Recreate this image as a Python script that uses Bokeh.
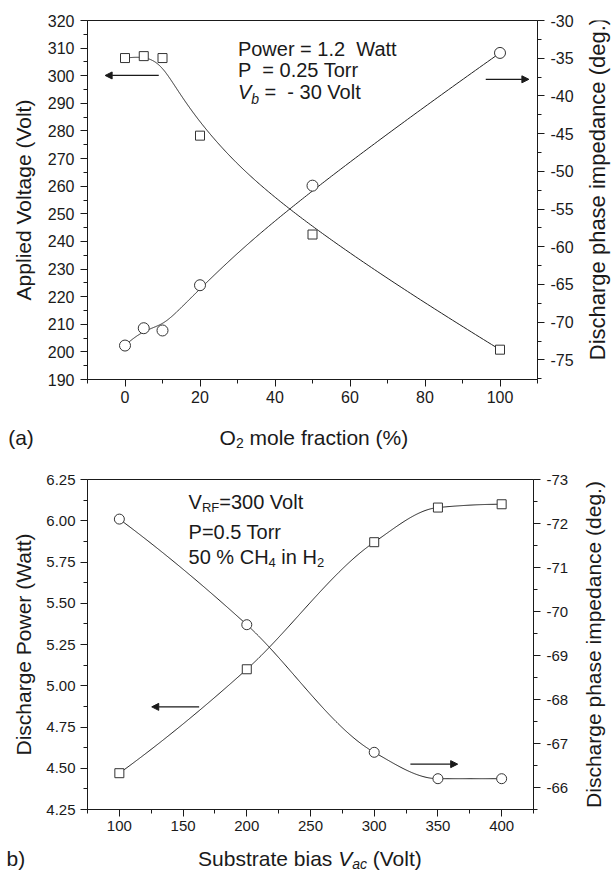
import math
import numpy as np
from bokeh.plotting import figure
from bokeh.models import (Range1d, LinearAxis, FixedTicker, Label, Arrow, NormalHead,
                          PrintfTickFormatter)
from bokeh.layouts import column, row
from bokeh.embed import file_html
from bokeh.resources import INLINE

# ---------------- data: panel (a) ----------------
o2_fraction = [0, 5, 10, 20, 50, 100]                          # O2 mole fraction (%)
applied_voltage = [306.4, 307.1, 306.4, 278.3, 242.5, 200.8]   # Volt (left axis)
phase_a = [-73.1, -70.8, -71.1, -65.1, -51.9, -34.3]           # deg (right axis)

# ---------------- data: panel (b) ----------------
substrate_bias = [100, 200, 300, 350, 400]                     # Volt
discharge_power = [4.47, 5.10, 5.87, 6.08, 6.10]               # Watt (left axis)
phase_b = [-72.1, -69.7, -66.8, -66.2, -66.2]                  # deg (right axis, inverted)

# tick values
a_xticks = [0, 20, 40, 60, 80, 100]
a_xminor = [-10, 10, 30, 50, 70, 90, 110]
a_lticks = list(range(190, 321, 10))
a_lminor = list(range(195, 320, 10))
a_rticks = [-75, -70, -65, -60, -55, -50, -45, -40, -35, -30]
a_rminor = [-77.5, -72.5, -67.5, -62.5, -57.5, -52.5, -47.5, -42.5, -37.5, -32.5]

b_xticks = [100, 150, 200, 250, 300, 350, 400]
b_xminor = [75, 125, 175, 225, 275, 325, 375, 425]
b_lticks = [4.25, 4.5, 4.75, 5.0, 5.25, 5.5, 5.75, 6.0, 6.25]
b_lminor = [4.375, 4.625, 4.875, 5.125, 5.375, 5.625, 5.875, 6.125]
b_rticks = [-73, -72, -71, -70, -69, -68, -67, -66]
b_rminor = [-72.5, -71.5, -70.5, -69.5, -68.5, -67.5, -66.5, -65.5]

FONT = "Liberation Sans"
INK = "#1a1a1a"
NB = "\u00a0"

WID = {' ': 278, NB: 278, '(': 333, ')': 333, '%': 889, '.': 278, '=': 584, '-': 333,
       'A': 667, 'B': 667, 'C': 722, 'D': 722, 'F': 611, 'H': 722, 'O': 778,
       'P': 667, 'R': 722, 'S': 667, 'T': 611, 'V': 667, 'W': 944,
       'a': 556, 'b': 556, 'c': 500, 'd': 556, 'e': 556, 'f': 278, 'g': 556,
       'h': 556, 'i': 222, 'l': 222, 'm': 833, 'n': 556, 'o': 556, 'p': 556,
       'r': 333, 's': 500, 't': 278, 'u': 556, 'w': 722}


def text_width(s, size):
    return sum(WID.get(ch, 556) for ch in s) * size / 1000.0


def rich(p, x, y, pieces, align="left", y_offset=0, x_offset=0):
    total = sum(text_width(t, sz) for t, sz, st, dy in pieces)
    off = x_offset if align == "left" else x_offset - total / 2.0
    for t, sz, st, dy in pieces:
        stripped = t.lstrip(" ")
        lead = text_width(t[:len(t) - len(stripped)], sz)
        p.add_layout(Label(x=x, y=y, x_offset=off + lead, y_offset=y_offset + dy,
                           text=stripped, text_font=FONT, text_font_size=f"{sz}px",
                           text_font_style=st, text_color=INK,
                           text_baseline="alphabetic", text_align="left"))
        off += text_width(t, sz)


def bspline_curve(xs, ys, n=400, k=3):
    """Clamped cubic B-spline using the data points as control points."""
    P = np.column_stack([xs, ys]).astype(float)
    m = len(P)
    spans = m - k
    knots = np.concatenate([np.zeros(k), np.arange(spans + 1), np.full(k, spans)]).astype(float)
    u = np.linspace(0, spans, n)

    def basis(i, p):
        if p == 0:
            res = ((knots[i] <= u) & (u < knots[i + 1])).astype(float)
            if knots[i] < knots[i + 1] and knots[i + 1] == spans:
                res[u == spans] = 1.0
            return res
        out = np.zeros_like(u)
        d1 = knots[i + p] - knots[i]
        if d1 > 0:
            out += (u - knots[i]) / d1 * basis(i, p - 1)
        d2 = knots[i + p + 1] - knots[i + 1]
        if d2 > 0:
            out += (knots[i + p + 1] - u) / d2 * basis(i + 1, p - 1)
        return out

    B = np.array([basis(i, k) for i in range(m)])
    C = B.T @ P
    return C[:, 0], C[:, 1]


def pchip_curve(xs, ys, n=400):
    """Monotone cubic curve through the data points."""
    x = np.asarray(xs, float)
    y = np.asarray(ys, float)
    h = np.diff(x)
    d = np.diff(y) / h
    m = np.zeros_like(y)
    for k in range(1, len(x) - 1):
        if d[k - 1] * d[k] > 0:
            w1 = 2 * h[k] + h[k - 1]
            w2 = h[k] + 2 * h[k - 1]
            m[k] = (w1 + w2) / (w1 / d[k - 1] + w2 / d[k])

    def end(h0, h1, d0, d1):
        v = ((2 * h0 + h1) * d0 - h0 * d1) / (h0 + h1)
        if np.sign(v) != np.sign(d0):
            v = 0.0
        elif np.sign(d0) != np.sign(d1) and abs(v) > abs(3 * d0):
            v = 3 * d0
        return v

    m[0] = end(h[0], h[1], d[0], d[1])
    m[-1] = end(h[-1], h[-2], d[-1], d[-2])
    xx = np.linspace(x[0], x[-1], n)
    idx = np.clip(np.searchsorted(x, xx, side="right") - 1, 0, len(x) - 2)
    t = (xx - x[idx]) / h[idx]
    h00 = 2 * t**3 - 3 * t**2 + 1
    h10 = t**3 - 2 * t**2 + t
    h01 = -2 * t**3 + 3 * t**2
    h11 = t**3 - t**2
    yy = h00 * y[idx] + h10 * h[idx] * m[idx] + h01 * y[idx + 1] + h11 * h[idx] * m[idx + 1]
    return xx, yy


def style_axis(ax, tick_size, label_size, label_standoff, major_standoff):
    ax.axis_line_color = INK
    ax.axis_line_width = 1
    ax.major_tick_line_color = INK
    ax.minor_tick_line_color = INK
    ax.major_tick_out = 7
    ax.major_tick_in = 0
    ax.minor_tick_out = 4
    ax.minor_tick_in = 0
    ax.major_label_text_font = FONT
    ax.major_label_text_font_size = f"{tick_size}px"
    ax.major_label_text_color = INK
    ax.major_label_standoff = major_standoff
    ax.axis_label_text_font = FONT
    ax.axis_label_text_font_size = f"{label_size}px"
    ax.axis_label_text_font_style = "normal"
    ax.axis_label_text_color = INK
    ax.axis_label_standoff = label_standoff


def base_fig(width, height, xr, yr, mbl, mbr, mbt, mbb):
    p = figure(width=width, height=height, x_range=xr, y_range=yr,
               output_backend="svg", toolbar_location=None,
               min_border_left=mbl, min_border_right=mbr,
               min_border_top=mbt, min_border_bottom=mbb)
    p.xgrid.visible = False
    p.ygrid.visible = False
    p.outline_line_color = INK
    p.outline_line_width = 1
    p.outline_line_alpha = 1
    p.background_fill_color = "white"
    p.border_fill_color = "white"
    return p


def blank_fig(w, h):
    f = figure(width=w, height=h, x_range=Range1d(0, w), y_range=Range1d(0, h),
               output_backend="svg", toolbar_location=None, min_border=0,
               x_axis_location=None, y_axis_location=None)
    f.xgrid.visible = False
    f.ygrid.visible = False
    f.outline_line_color = None
    f.background_fill_color = "white"
    f.border_fill_color = "white"
    return f


def side_label(w, h, text, x, y, size):
    f = blank_fig(w, h)
    f.add_layout(Label(x=x, y=y, text=text, angle=math.pi / 2, text_font=FONT,
                       text_font_size=f"{size}px", text_color=INK,
                       text_align="center", text_baseline="middle"))
    return f


# ================= panel (a) =================
p1 = base_fig(576, 409, Range1d(-10, 110), Range1d(190, 320), 87, 36, 20, 30)
p1.extra_y_ranges = {"phase": Range1d(-77.6, -30)}

p1.xaxis.ticker = FixedTicker(ticks=a_xticks, minor_ticks=a_xminor)
p1.yaxis.ticker = FixedTicker(ticks=a_lticks, minor_ticks=a_lminor)
p1.yaxis.axis_label = "Applied Voltage (Volt)"
ra = LinearAxis(y_range_name="phase",
                ticker=FixedTicker(ticks=a_rticks, minor_ticks=a_rminor),
                formatter=PrintfTickFormatter(format="%d"))
p1.add_layout(ra, "right")
style_axis(p1.xaxis[0], 16, 20, 0, 4)
style_axis(p1.yaxis[0], 16, 21, 10, 6)
style_axis(ra, 16, 22, 8, 6)

xa, ya = bspline_curve(o2_fraction, applied_voltage)
p1.line(xa, ya, line_color="#222", line_width=1)
xb, yb = bspline_curve(o2_fraction, phase_a)
p1.line(xb, yb, line_color="#222", line_width=1, y_range_name="phase")
p1.scatter(o2_fraction, applied_voltage, marker="square", size=9,
           fill_color="white", line_color="#333", line_width=1)
p1.scatter(o2_fraction, phase_a, marker="circle", size=11, y_range_name="phase",
           fill_color="white", line_color="#333", line_width=1)

p1.add_layout(Arrow(x_start=9, y_start=300.1, x_end=-5.3, y_end=300.1,
                    line_color=INK, line_width=1.3,
                    end=NormalHead(size=7, fill_color=INK, line_color=INK)))
p1.add_layout(Arrow(x_start=96.2, y_start=-37.8, x_end=107.7, y_end=-37.8,
                    y_range_name="phase", line_color=INK, line_width=1.3,
                    end=NormalHead(size=7, fill_color=INK, line_color=INK)))

rich(p1, 30.1, 309.75, [("Power = 1.2" + NB + " Watt", 20, "normal", 0)])
rich(p1, 30.1, 301.9, [("P" + NB + " = 0.25 Torr", 20, "normal", 0)])
rich(p1, 30.1, 294.0, [("V", 20, "italic", 0), ("b", 14, "italic", -7),
                       (" =" + NB + " - 30 Volt", 20, "normal", 0)])

r1 = side_label(35, 409, "Discharge phase impedance (deg.)", 21, 217, 22)

c1 = blank_fig(611, 43)
rich(c1, 313.4, 15, [("O", 21, "normal", 0), ("2", 14, "normal", -5),
                     (" mole fraction (%)", 21, "normal", 0)], align="center")
rich(c1, 7.7, 15, [("(a)", 21, "normal", 0)])

# ================= panel (b) =================
p2 = base_fig(573, 388, Range1d(75, 425), Range1d(4.25, 6.25), 87, 40, 27, 31)
p2.extra_y_ranges = {"phase": Range1d(-65.5, -73)}

p2.xaxis.ticker = FixedTicker(ticks=b_xticks, minor_ticks=b_xminor)
p2.yaxis.ticker = FixedTicker(ticks=b_lticks, minor_ticks=b_lminor)
p2.yaxis.formatter = PrintfTickFormatter(format="%.2f")
p2.yaxis.axis_label = "Discharge Power (Watt)"
rb = LinearAxis(y_range_name="phase",
                ticker=FixedTicker(ticks=b_rticks, minor_ticks=b_rminor),
                formatter=PrintfTickFormatter(format="%d"))
p2.add_layout(rb, "right")
style_axis(p2.xaxis[0], 15, 20, 0, 4)
style_axis(p2.yaxis[0], 15, 21, 8, 5)
style_axis(rb, 15, 21, 12, 6)

xc, yc = pchip_curve(substrate_bias, discharge_power)
p2.line(xc, yc, line_color="#222", line_width=1)
xd, yd = pchip_curve(substrate_bias, phase_b)
p2.line(xd, yd, line_color="#222", line_width=1, y_range_name="phase")
p2.scatter(substrate_bias, discharge_power, marker="square", size=9,
           fill_color="white", line_color="#333", line_width=1)
p2.scatter(substrate_bias, phase_b, marker="circle", size=10, y_range_name="phase",
           fill_color="white", line_color="#333", line_width=1)

p2.add_layout(Arrow(x_start=162.6, y_start=4.872, x_end=125.4, y_end=4.872,
                    line_color=INK, line_width=1.3,
                    end=NormalHead(size=7, fill_color=INK, line_color=INK)))
p2.add_layout(Arrow(x_start=328.4, y_start=4.525, x_end=365.5, y_end=4.525,
                    line_color=INK, line_width=1.3,
                    end=NormalHead(size=7, fill_color=INK, line_color=INK)))

rich(p2, 154.3, 6.114, [("V", 20, "normal", 0), ("RF", 13, "normal", -6),
                        ("=300 Volt", 20, "normal", 0)])
rich(p2, 154.3, 5.932, [("P=0.5 Torr", 20, "normal", 0)])
rich(p2, 154.3, 5.781, [("50 % CH", 20, "normal", 0), ("4", 13, "normal", -6),
                        (" in H", 20, "normal", 0), ("2", 13, "normal", -6)])

r2 = side_label(38, 388, "Discharge phase impedance (deg.)", 20, 194, 21)

c2 = blank_fig(611, 30)
rich(c2, 310, 12, [("Substrate bias ", 21, "normal", 0), ("V", 21, "italic", 0),
                   ("ac", 14, "italic", -5), (" (Volt)", 21, "normal", 0)], align="center")
rich(c2, 6, 12, [("b)", 21, "normal", 0)])

layout = column(row(p1, r1), c1, row(p2, r2), c2)
open("out.html", "w").write(file_html(layout, INLINE))
